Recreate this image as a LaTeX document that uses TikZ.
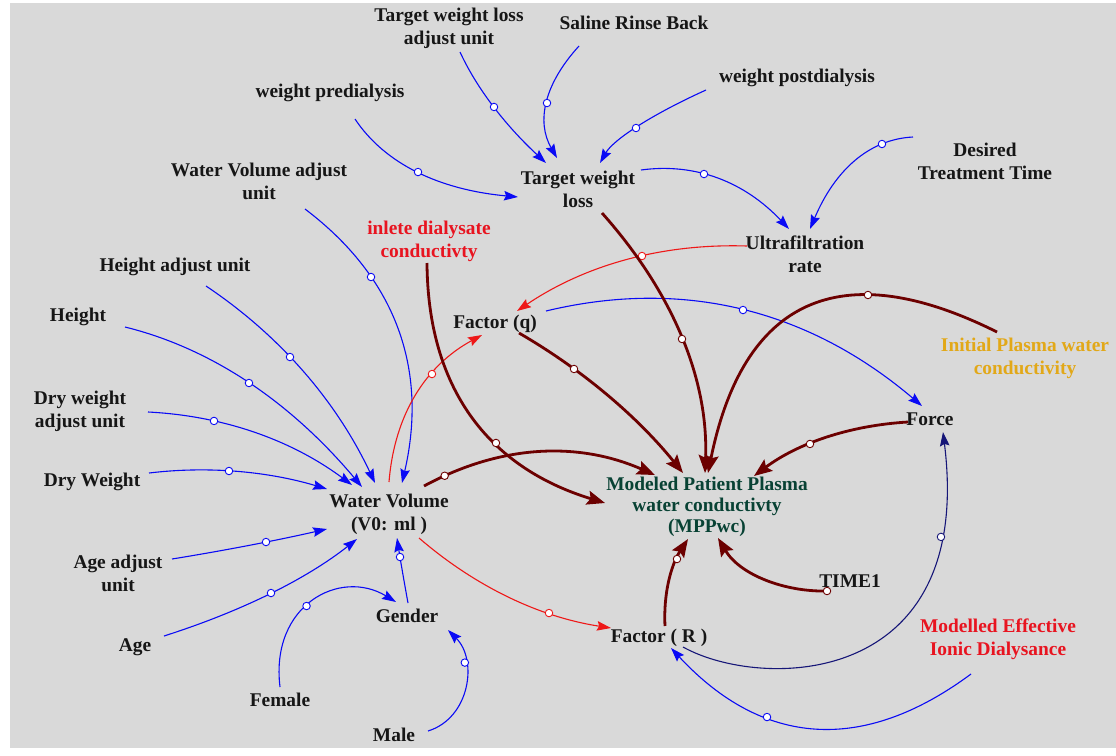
\documentclass[tikz,border=0pt]{standalone}
\usepackage{fontspec}
\setmainfont{Liberation Serif}
\usetikzlibrary{arrows.meta,calc}
\definecolor{canvasgray}{RGB}{217,217,217}
\definecolor{ink}{RGB}{22,22,22}
\definecolor{vblue}{RGB}{10,10,245}
\definecolor{vred}{RGB}{238,24,24}
\definecolor{vbrown}{RGB}{108,0,0}
\definecolor{vnavy}{RGB}{22,22,120}
\definecolor{vorange}{RGB}{226,168,24}
\definecolor{vgreen}{RGB}{8,66,52}
\definecolor{vtextred}{RGB}{232,20,32}
\begin{document}
\begin{tikzpicture}[x=1pt,y=-1pt,
  lbl/.style={font=\fontsize{19.4}{23}\selectfont\bfseries, text=ink, align=center, inner sep=0pt},
  thin link/.style={line width=1.1pt, draw=#1, -{Stealth[length=14pt,width=9.5pt,inset=2pt]}},
  thick link/.style={line width=2.8pt, draw=vbrown, -{Stealth[length=18pt,width=14pt,inset=3pt]}},
  hdl/.style={circle, draw=#1, fill=white, line width=0.9pt, minimum size=7.5pt, inner sep=0pt}
]
% sheet and canvas
\fill[white] (0,0) rectangle (1116,748);
\fill[canvasgray] (10,3) rectangle (1116,748);

% variables
\node[lbl] (twlau) at (449,28) {Target weight loss\\adjust unit};
\node[lbl] (srb) at (634,23) {Saline Rinse Back};
\node[lbl] (wpost) at (797,78) {weight postdialysis};
\node[lbl] (wpre) at (330,93) {weight predialysis};
\node[lbl] (twl) at (578,189) {Target weight\\loss};
\node[lbl] (dtt) at (985,161) {Desired\\Treatment Time};
\node[lbl] (wvau) at (259,181) {Water Volume adjust\\unit};
\node[lbl, text=vtextred] (idc) at (429,241) {inlete dialysate\\conductivty};
\node[lbl] (uf) at (805,254) {Ultrafiltration\\rate};
\node[lbl] (hau) at (175,267) {Height adjust unit};
\node[lbl] (height) at (78,317) {Height};
\node[lbl] (fq) at (495,324) {Factor (q)};
\node[lbl, text=vorange] (ipwc) at (1025,358) {Initial Plasma water\\conductivity};
\node[lbl] (force) at (930,419) {Force};
\node[lbl] (dwau) at (80,411) {Dry weight\\adjust unit};
\node[lbl] (dw) at (92,482) {Dry Weight};
\node[lbl] (wv) at (389,514) {Water Volume\\(V0: ml )};
\node[lbl, text=vgreen, font=\fontsize{19.4}{21}\selectfont\bfseries] (mppwc) at (707,507) {Modeled Patient Plasma\\water conductivty\\(MPPwc)};
\node[lbl] (aau) at (118,573) {Age adjust\\unit};
\node[lbl] (age) at (135,647) {Age};
\node[lbl] (gender) at (407,616) {Gender};
\node[lbl] (time1) at (850,581) {TIME1};
\node[lbl] (fr) at (659,638) {Factor ( R )};
\node[lbl, text=vtextred] (meid) at (998,639) {Modelled Effective\\Ionic Dialysance};
\node[lbl] (female) at (280,700) {Female};
\node[lbl] (male) at (394,735) {Male};

% blue information links
\draw[thin link=vblue] ($(twlau)+(11,24)$) .. controls (476.7,88.3) and (505.3,125.3) .. node[hdl=vblue,pos=.5] (h1) {} ($(twl)+(-32,-26)$);
\draw[thin link=vblue] ($(srb)+(-55,23)$) .. controls (543.7,84.7) and (536.3,122) .. node[hdl=vblue,pos=.5] (h2) {} ($(twl)+(-21,-31)$);
\draw[thin link=vblue] ($(wpost)+(-91,12)$) .. controls (648,116.3) and (612.7,140.7) .. node[hdl=vblue,pos=.5] (h3) {} ($(twl)+(22,-26)$);
\draw[thin link=vblue] ($(wpre)+(25,26)$) .. controls (384.7,163.7) and (439,189.7) .. node[hdl=vblue,pos=.5] (h4) {} ($(twl)+(-60,8)$);
\draw[thin link=vblue] ($(twl)+(63,-19)$) .. controls (695.6,162.5) and (744.9,182.1) .. node[hdl=vblue,pos=.4] (h5) {} ($(uf)+(-16,-25)$);
\draw[thin link=vblue] ($(dtt)+(-72,-24)$) .. controls (869.3,139.2) and (835,169.9) .. node[hdl=vblue,pos=.25] (h6) {} ($(uf)+(5,-25)$);
\draw[thin link=vblue] ($(wvau)+(46,28)$) .. controls (395.9,277.8) and (428.3,369.1) .. node[hdl=vblue,pos=.3] (h7) {} ($(wv)+(13,-31)$);
\draw[thin link=vblue] ($(hau)+(31,19)$) .. controls (280.1,335.6) and (336.5,401.3) .. node[hdl=vblue,pos=.42] (h8) {} ($(wv)+(-14,-31)$);
\draw[thin link=vblue] ($(height)+(47,10)$) .. controls (211.3,348.3) and (290.3,401.7) .. node[hdl=vblue,pos=.5] (h9) {} ($(wv)+(-27,-27)$);
\draw[thin link=vblue] ($(dwau)+(68,1)$) .. controls (223.6,415.8) and (291.6,440.1) .. node[hdl=vblue,pos=.3] (h10) {} ($(wv)+(-37,-29)$);
\draw[thin link=vblue] ($(dw)+(57,-9)$) .. controls (208.2,465.9) and (267.5,471.3) .. node[hdl=vblue,pos=.45] (h11) {} ($(wv)+(-62,-25)$);
\draw[thin link=vblue] ($(aau)+(54,-14)$) .. controls (225.1,550.4) and (276.7,540.4) .. node[hdl=vblue,pos=.6] (h12) {} ($(wv)+(-62,15)$);
\draw[thin link=vblue] ($(age)+(29,-11)$) .. controls (242.3,611) and (306.7,578.7) .. node[hdl=vblue,pos=.5] (h13) {} ($(wv)+(-32,25)$);
\draw[thin link=vblue] ($(gender)+(1,-13)$) .. controls (403.9,580.5) and (400.2,558.9) .. node[hdl=vblue,pos=.7] (h14) {} ($(wv)+(8,24)$);
\draw[thin link=vblue] ($(female)+(0,-13)$) .. controls (270,605) and (340,568) .. node[hdl=vblue,pos=.45] (h15) {} ($(gender)+(-11,-14)$);
\draw[thin link=vblue] ($(male)+(34,-4)$) .. controls (470,718) and (478,660) .. node[hdl=vblue,pos=.7] (h16) {} ($(gender)+(41,14)$);
\draw[thin link=vblue] ($(fq)+(51,-13)$) .. controls (683.3,278) and (808.7,309.7) .. node[hdl=vblue,pos=.5] (h17) {} ($(force)+(-8,-13)$);
\draw[thin link=vblue] ($(meid)+(-27,35)$) .. controls (862.1,754.7) and (762.1,746.1) .. node[hdl=vblue,pos=.66] (h18) {} ($(fr)+(12,10)$);
\draw[thin link=vnavy] ($(fr)+(24,9)$) .. controls (760,690) and (975,690) .. node[hdl=vnavy,pos=.84] (h19) {} ($(force)+(13,13)$);

% red links
\draw[thin link=vred] ($(uf)+(-58,-8)$) .. controls (662,243.3) and (585.3,264.9) .. node[hdl=vred,pos=.43] (h20) {} ($(fq)+(22,-13)$);
\draw[thin link=vred] ($(wv)+(0,-32)$) .. controls (394.4,414.8) and (425.4,365.8) .. node[hdl=vred,pos=.65] (h21) {} ($(fq)+(-13,11)$);
\draw[thin link=vred] ($(wv)+(30,24)$) .. controls (476,587.1) and (540,617.1) .. node[hdl=vred,pos=.7] (h22) {} ($(fr)+(-48,-10)$);

% links into the plasma conductivity
\draw[thick link] ($(idc)+(-2,22)$) .. controls (427.8,387.1) and (487.1,467.1) .. node[hdl=vbrown,pos=.62] (h23) {} ($(mppwc)+(-102,-4)$);
\draw[thick link] ($(wv)+(35,-28)$) .. controls (500.5,444.7) and (577.5,441) .. node[hdl=vbrown,pos=.09] (h24) {} ($(mppwc)+(-52,-32)$);
\draw[thick link] ($(fq)+(24,9)$) .. controls (582.9,370.1) and (637.5,416.8) .. node[hdl=vbrown,pos=.3] (h25) {} ($(mppwc)+(-24,-34)$);
\draw[thick link] ($(twl)+(24,24)$) .. controls (674.3,294.3) and (708.7,381) .. node[hdl=vbrown,pos=.5] (h26) {} ($(mppwc)+(-2,-34)$);
\draw[thick link] ($(ipwc)+(-28,-26)$) .. controls (839.2,253.2) and (742.9,300.2) .. node[hdl=vbrown,pos=.31] (h27) {} ($(mppwc)+(1,-34)$);
\draw[thick link] ($(force)+(-22,3)$) .. controls (848.9,425.5) and (797.5,443.5) .. node[hdl=vbrown,pos=.6] (h28) {} ($(mppwc)+(47,-31)$);
\draw[thick link] ($(fr)+(6,-12)$) .. controls (663.3,593.9) and (671,564.9) .. node[hdl=vbrown,pos=.75] (h29) {} ($(mppwc)+(-19,32)$);
\draw[thick link] ($(time1)+(-23,10)$) .. controls (785,592) and (740,575) .. node[hdl=vbrown,pos=0] (h30) {} ($(mppwc)+(11,31)$);
\end{tikzpicture}
\end{document}
